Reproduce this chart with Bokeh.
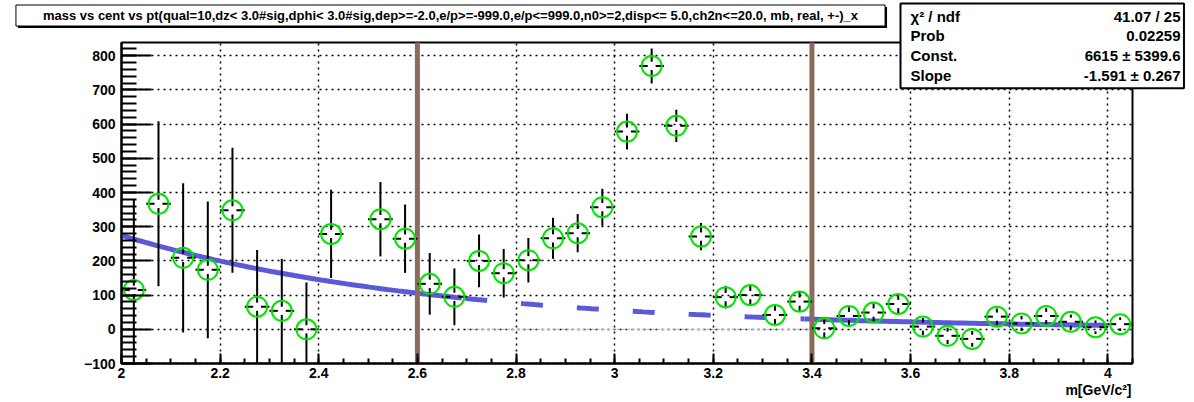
import numpy as np
from bokeh.plotting import figure
from bokeh.models import Range1d, SingleIntervalTicker, Label, CustomJSTickFormatter, Grid
from bokeh.embed import file_html
from bokeh.resources import INLINE

# ---------------- data ----------------
mass = [2.025, 2.075, 2.125, 2.175, 2.225, 2.275, 2.325, 2.375, 2.425, 2.525,
        2.575, 2.625, 2.675, 2.725, 2.775, 2.825, 2.875, 2.925, 2.975, 3.025,
        3.075, 3.125, 3.175, 3.225, 3.275, 3.325, 3.375, 3.425, 3.475, 3.525,
        3.575, 3.625, 3.675, 3.725, 3.775, 3.825, 3.875, 3.925, 3.975, 4.025]
counts = [115, 367, 209, 174, 348, 66, 54, 0, 279, 322,
          265, 133, 95, 200, 164, 202, 266, 281, 357, 578,
          770, 595, 271, 94, 100, 42, 81, 3, 39, 49,
          74, 8, -19, -28, 37, 17, 39, 22, 6, 15]
errors = [264, 241, 218, 200, 183, 166, 152, 137, 129, 109,
          100, 90, 83, 77, 71, 65, 60, 56, 54, 52,
          51, 47, 40, 33, 32, 30, 29, 28, 27, 27,
          27, 25, 24, 23, 24, 22, 23, 21, 20, 20]
bin_half_width = 0.025

fit_const = 6615.0
fit_slope = -1.591
window_edges = [2.6, 3.4]
zero_line_x = [2.7, 3.4]
zero_line_y = [0, 0]

title_text = ("mass vs cent vs pt(qual=10,dz< 3.0#sig,dphi< 3.0#sig,dep>=-2.0,e/p>=-999.0,"
              "e/p<=999.0,n0>=2,disp<= 5.0,ch2n<=20.0, mb, real, +-)_x")
stat_names = ["\u03c7\u00b2 / ndf", "Prob", "Const.", "Slope"]
stat_values = ["41.07 / 25", "0.02259", "6615 \u00b1 5399.6", "-1.591 \u00b1 0.267"]
x_title = "m[GeV/c\u00b2]"

# axis extents of the drawn frame
X0, X1 = 2.0, 4.05
Y0, Y1 = -100.0, 838.6

# ---------------- layout (pixels) ----------------
W, H = 1194, 402
FL, FR, FT, FB = 121, 1132, 42, 363          # frame box edges on the canvas
FONT = "Liberation Sans"

sx = (FR - FL) / (X1 - X0)
sy = (FB - FT) / (Y1 - Y0)
xr = Range1d(X0 - FL / sx, X1 + (W - FR) / sx)
yr = Range1d(Y0 - (H - FB) / sy, Y1 + FT / sy)

p = figure(frame_width=W, frame_height=H, x_range=xr, y_range=yr,
           min_border=0, min_border_left=0, min_border_right=0,
           min_border_top=0, min_border_bottom=0,
           output_backend="svg", toolbar_location=None)
p.title.visible = False
p.background_fill_color = "white"
p.border_fill_color = "white"
p.outline_line_color = None

xt = SingleIntervalTicker(interval=0.2, num_minor_ticks=4)
yt = SingleIntervalTicker(interval=100, num_minor_ticks=5)

xa = p.xaxis[0]
ya = p.yaxis[0]
xa.ticker = xt
ya.ticker = yt
xa.fixed_location = Y0
ya.fixed_location = X0
xa.bounds = (X0, X1)
ya.bounds = (Y0, Y1)
xa.formatter = CustomJSTickFormatter(code="return (Math.round(tick*10)/10).toString();")

for ax in (xa, ya):
    ax.axis_line_width = 2
    ax.axis_line_color = "black"
    ax.major_tick_line_width = 2
    ax.minor_tick_line_width = 2
    ax.major_tick_out = 0
    ax.minor_tick_out = 0
    ax.major_label_text_font = FONT
    ax.major_label_text_font_style = "bold"
    ax.major_label_text_font_size = "14px"
    ax.major_label_text_color = "black"
xa.major_tick_in = 10
xa.minor_tick_in = 5
ya.major_tick_in = 30
ya.minor_tick_in = 15
xa.major_label_standoff = 4
ya.major_label_standoff = 6

has_cross = "cross_bounds" in Grid.properties()
for g, b, cb in ((p.xgrid[0], (X0, X1), (Y0, Y1)), (p.ygrid[0], (Y0, Y1), (X0, X1))):
    g.grid_line_color = "black"
    g.grid_line_alpha = 1.0
    g.grid_line_dash = "2 4"
    g.grid_line_width = 1.5
    g.bounds = b
    if has_cross:
        g.cross_bounds = cb
p.xgrid[0].ticker = xt
p.ygrid[0].ticker = yt
if not has_cross:
    p.xgrid[0].visible = False
    p.ygrid[0].visible = False
    gxs = np.arange(2.2, 4.01, 0.2)
    gys = np.arange(0, 801, 100)
    p.segment(x0=gxs, x1=gxs, y0=Y0, y1=Y1, line_color="black", line_dash="2 4", line_width=1.5)
    p.segment(x0=X0, x1=X1, y0=gys, y1=gys, line_color="black", line_dash="2 4", line_width=1.5)

# frame box
p.quad(left=[X0], right=[X1], bottom=[Y0], top=[Y1], fill_color=None,
       line_color="black", line_width=2)

# faint zero line
p.line(zero_line_x, zero_line_y, line_color="#bbbbbb", line_width=1.2, line_dash="3 2")

# fit function (evaluated from the fit parameters)
def fit(x):
    return fit_const * np.exp(fit_slope * np.asarray(x))

BLUE = "#5a5ad8"
xa_ = np.linspace(2.0, 2.69, 60)
xb_ = np.linspace(2.697, 3.385, 60)
xc_ = np.linspace(3.385, 4.0, 60)
p.line(xa_, fit(xa_), line_color=BLUE, line_width=5)
p.line(xb_, fit(xb_), line_color=BLUE, line_width=5, line_dash="22 34")
p.line(xc_, fit(xc_), line_color=BLUE, line_width=5)

# window edges
for loc in window_edges:
    p.segment(x0=[loc], x1=[loc], y0=[Y0], y1=[Y1], line_color="#8b6b5b", line_width=5)

# error bars with a small gap at the centre, clipped to the frame
m = np.array(mass, dtype=float)
c = np.array(counts, dtype=float)
e = np.array(errors, dtype=float)
gx, gy = 0.008, 12.0
lo = np.maximum(c - e, Y0)
hi = np.minimum(c + e, Y1)
p.segment(x0=m - bin_half_width, x1=m - gx, y0=c, y1=c, line_color="black", line_width=2)
p.segment(x0=m + gx, x1=m + bin_half_width, y0=c, y1=c, line_color="black", line_width=2)
p.segment(x0=m, x1=m, y0=c + gy, y1=hi, line_color="black", line_width=2)
p.segment(x0=m, x1=m, y0=c - gy, y1=lo, line_color="black", line_width=2)

p.scatter(m, c, marker="circle", size=20, fill_color=None,
          line_color="#00e600", line_width=2)

# ---------------- title box ----------------
TCX, TCY = 450, 15
for dx, dy, bg, bl in ((2, 2, "black", None), (0, 0, "white", "black")):
    p.add_layout(Label(x=X0, y=Y1, x_offset=TCX - FL + dx, y_offset=FT - TCY - dy,
                       text=title_text, text_align="center", text_baseline="middle",
                       text_font=FONT, text_font_style="bold", text_font_size="13px",
                       text_color="black", background_fill_color=bg,
                       border_line_color=bl, border_line_width=1,
                       padding=dict(left=27, right=27, top=3, bottom=3)))

# ---------------- stats box ----------------
SL, SR, ST = 900, 1190, 3
p.add_layout(Label(x=X1, y=Y1, x_offset=SL - FR, y_offset=FT - ST,
                   text="\n".join(stat_names), text_align="left", text_baseline="top",
                   text_font=FONT, text_font_style="bold", text_font_size="15px",
                   text_line_height=1.17, text_color="black",
                   background_fill_color="white", border_line_color="black",
                   border_line_width=2,
                   padding=dict(left=10, right=224, top=4, bottom=4)))
p.add_layout(Label(x=X1, y=Y1, x_offset=SR - FR - 10, y_offset=FT - ST - 4,
                   text="\n".join(stat_values), text_align="right", text_baseline="top",
                   text_font=FONT, text_font_style="bold", text_font_size="15px",
                   text_line_height=1.17, text_color="black"))

# ---------------- axis title ----------------
p.add_layout(Label(x=X1, y=Y0, x_offset=-1, y_offset=-(389 - FB), text=x_title,
                   text_align="right", text_baseline="middle",
                   text_font=FONT, text_font_style="bold", text_font_size="14px",
                   text_color="black"))

open("out.html", "w").write(file_html(p, INLINE))
